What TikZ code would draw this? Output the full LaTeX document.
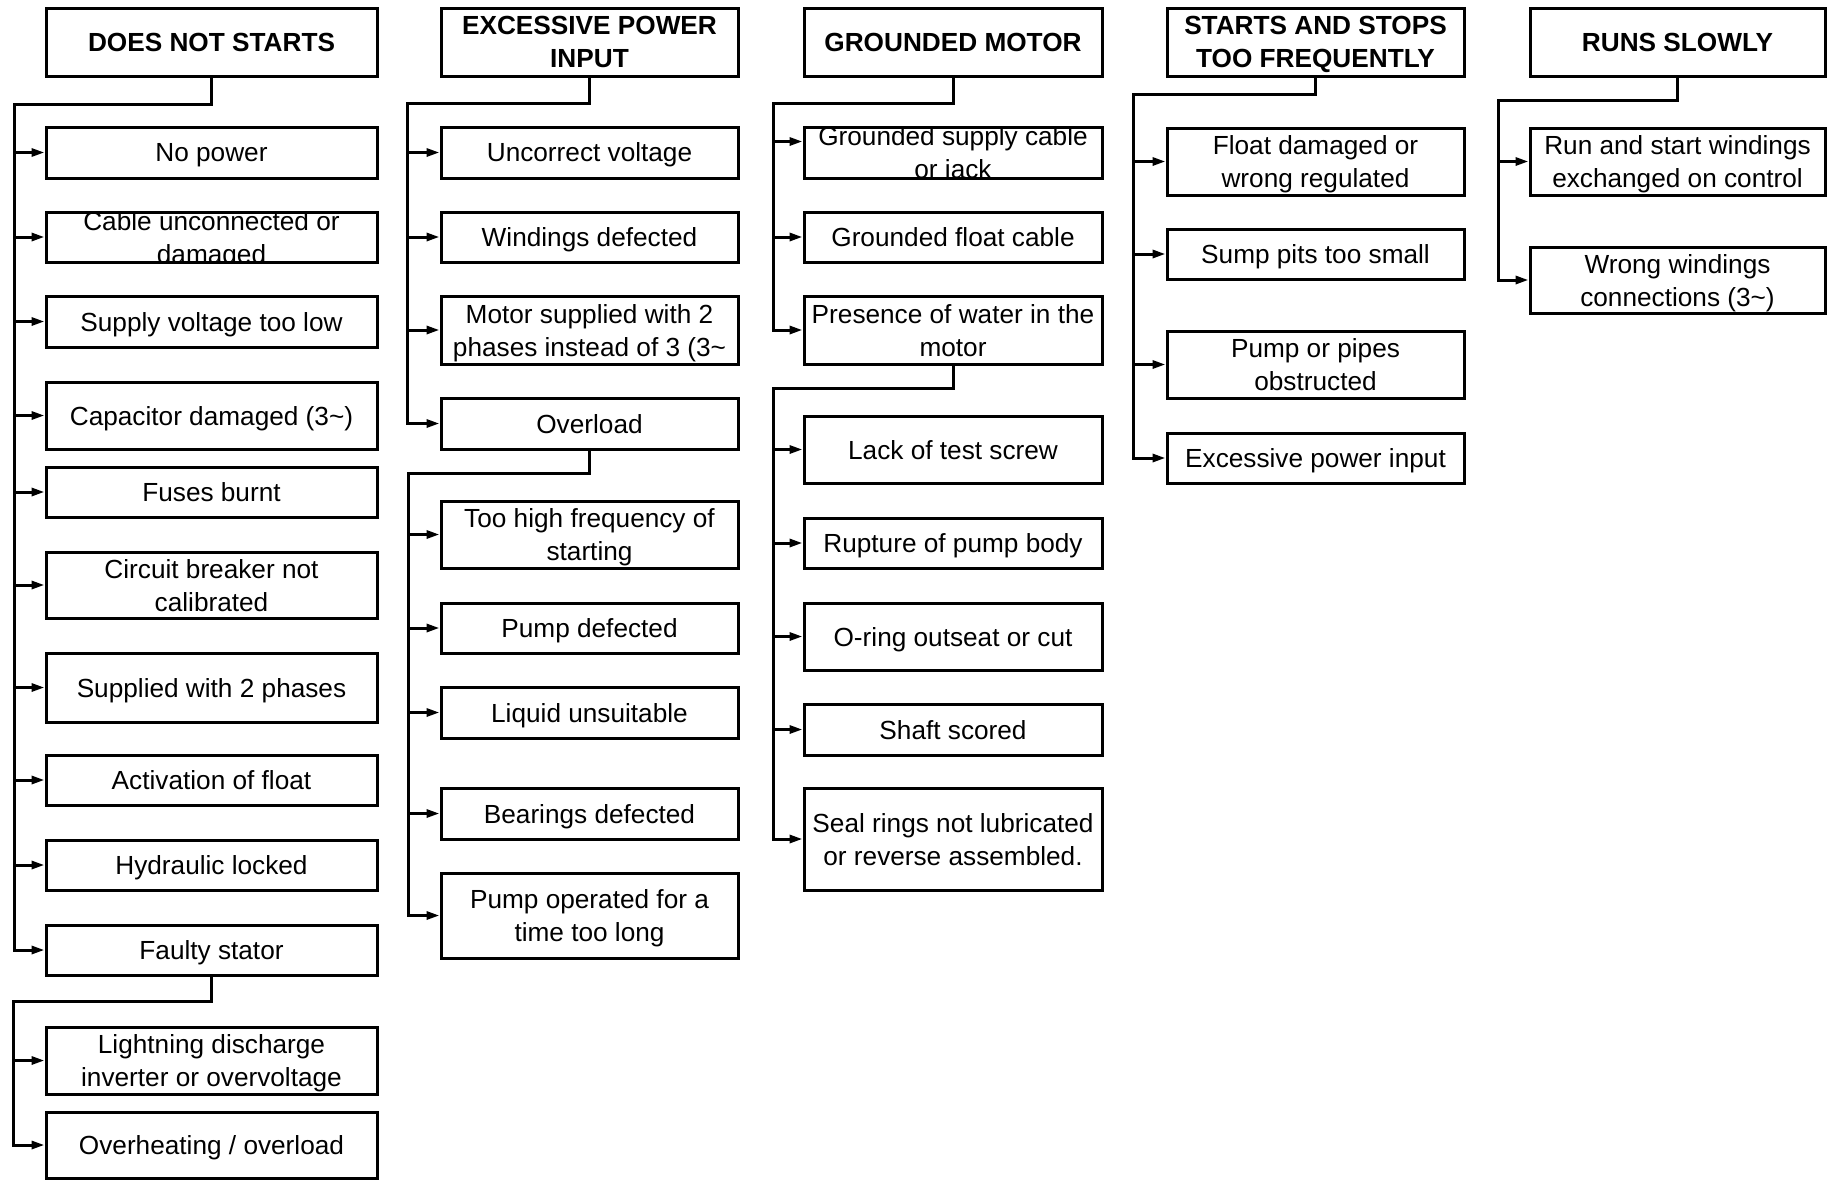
\documentclass[tikz,border=0pt]{standalone}
\usepackage{fontspec}
\setmainfont{Liberation Sans}
\usetikzlibrary{arrows.meta}
\begin{document}
\fontsize{13.1}{16.5}\selectfont
\begin{tikzpicture}[x=0.5pt, y=-0.5pt, line width=1.5pt,
  head/.style={draw=black, font=\bfseries, align=center, inner sep=0pt, text depth=0pt, minimum height=34pt},
  cause/.style={draw=black, align=center, inner sep=0pt, text depth=0pt},
  cut/.style={cause, path picture={\node[align=center] at (path picture bounding box.center) {#1};}},
  link/.style={-{Triangle[length=6.5pt,width=4pt]}}]
\useasboundingbox (0,0) rectangle (1829,1179);
% headers
\node[head, minimum width=165.5pt] (h1) at (211.5,42) {DOES NOT STARTS};
\node[head, minimum width=148.5pt] (h2) at (589.5,42) {EXCESSIVE POWER\\INPUT};
\node[head, minimum width=149pt] (h3) at (953,42) {GROUNDED MOTOR};
\node[head, minimum width=148.5pt] (h4) at (1315.5,42) {STARTS AND STOPS\\TOO FREQUENTLY};
\node[head, minimum width=147.5pt] (h5) at (1677.5,42) {RUNS SLOWLY};
% column 1
\node[cause, minimum width=165.5pt, minimum height=25.5pt] (c11) at (211.5,152.5) {No power};
\node[cut={Cable unconnected or\\damaged}, minimum width=165.5pt, minimum height=25pt] (c12) at (211.5,237) {};
\node[cause, minimum width=165.5pt, minimum height=25.5pt] (c13) at (211.5,321.5) {Supply voltage too low};
\node[cause, minimum width=165.5pt, minimum height=33.5pt] (c14) at (211.5,415.5) {Capacitor damaged (3\textasciitilde)};
\node[cause, minimum width=165.5pt, minimum height=25pt] (c15) at (211.5,492) {Fuses burnt};
\node[cause, minimum width=165.5pt, minimum height=33pt] (c16) at (211.5,585) {Circuit breaker not\\calibrated};
\node[cause, minimum width=165.5pt, minimum height=34.5pt] (c17) at (211.5,687.5) {Supplied with 2 phases};
\node[cause, minimum width=165.5pt, minimum height=25pt] (c18) at (211.5,780) {Activation of float};
\node[cause, minimum width=165.5pt, minimum height=25pt] (c19) at (211.5,865) {Hydraulic locked};
\node[cause, minimum width=165.5pt, minimum height=25pt] (c110) at (211.5,950) {Faulty stator};
\node[cause, minimum width=165.5pt, minimum height=33.5pt] (c111) at (211.5,1060.5) {Lightning discharge\\inverter or overvoltage};
\node[cause, minimum width=165.5pt, minimum height=33pt] (c112) at (211.5,1145) {Overheating / overload};
% column 2
\node[cause, minimum width=148.5pt, minimum height=25.5pt] (c21) at (589.5,152.5) {Uncorrect voltage};
\node[cause, minimum width=148.5pt, minimum height=25pt] (c22) at (589.5,237) {Windings defected};
\node[cause, minimum width=148.5pt, minimum height=34pt] (c23) at (589.5,330) {Motor supplied with 2\\phases instead of 3 (3\textasciitilde};
\node[cause, minimum width=148.5pt, minimum height=25.5pt] (c24) at (589.5,423.5) {Overload};
\node[cause, minimum width=148.5pt, minimum height=33.5pt] (c25) at (589.5,534.5) {Too high frequency of\\starting};
\node[cause, minimum width=148.5pt, minimum height=25pt] (c26) at (589.5,628) {Pump defected};
\node[cause, minimum width=148.5pt, minimum height=25.5pt] (c27) at (589.5,712.5) {Liquid unsuitable};
\node[cause, minimum width=148.5pt, minimum height=25.5pt] (c28) at (589.5,813.5) {Bearings defected};
\node[cause, minimum width=148.5pt, minimum height=42.5pt] (c29) at (589.5,915.5) {Pump operated for a\\time too long};
% column 3
\node[cut={Grounded supply cable\\or jack}, minimum width=149pt, minimum height=25.5pt] (c31) at (953,152.5) {};
\node[cause, minimum width=149pt, minimum height=25pt] (c32) at (953,237) {Grounded float cable};
\node[cause, minimum width=149pt, minimum height=34pt] (c33) at (953,330) {Presence of water in the\\motor};
\node[cause, minimum width=149pt, minimum height=33.5pt] (c34) at (953,449.5) {Lack of test screw};
\node[cause, minimum width=149pt, minimum height=25pt] (c35) at (953,543) {Rupture of pump body};
\node[cause, minimum width=149pt, minimum height=33.5pt] (c36) at (953,636.5) {O-ring outseat or cut};
\node[cause, minimum width=149pt, minimum height=25.5pt] (c37) at (953,729.5) {Shaft scored};
\node[cause, minimum width=149pt, minimum height=51pt] (c38) at (953,839) {Seal rings not lubricated\\or reverse assembled.};
% column 4
\node[cause, minimum width=148.5pt, minimum height=33.5pt] (c41) at (1315.5,161.5) {Float damaged or\\wrong regulated};
\node[cause, minimum width=148.5pt, minimum height=25pt] (c42) at (1315.5,254) {Sump pits too small};
\node[cause, minimum width=148.5pt, minimum height=33.5pt] (c43) at (1315.5,364.5) {Pump or pipes\\obstructed};
\node[cause, minimum width=148.5pt, minimum height=25pt] (c44) at (1315.5,458) {Excessive power input};
% column 5
\node[cause, minimum width=147.5pt, minimum height=33.5pt] (c51) at (1677.5,161.5) {Run and start windings\\exchanged on control};
\node[cause, minimum width=147.5pt, minimum height=33pt] (c52) at (1677.5,280) {Wrong windings\\connections (3\textasciitilde)};
% trunk corners
\coordinate (t1) at (14,104);
\coordinate (t1b) at (13,1001);
\coordinate (t2) at (407,103);
\coordinate (t2b) at (408,473);
\coordinate (t3) at (773,103);
\coordinate (t3b) at (773,388);
\coordinate (t4) at (1133,94);
\coordinate (t5) at (1498,100);
% column 1 links
\draw[link] (h1.south) |- (t1) |- (c110.west);
\draw[link] (t1 |- c11.west) -- (c11.west);
\draw[link] (t1 |- c12.west) -- (c12.west);
\draw[link] (t1 |- c13.west) -- (c13.west);
\draw[link] (t1 |- c14.west) -- (c14.west);
\draw[link] (t1 |- c15.west) -- (c15.west);
\draw[link] (t1 |- c16.west) -- (c16.west);
\draw[link] (t1 |- c17.west) -- (c17.west);
\draw[link] (t1 |- c18.west) -- (c18.west);
\draw[link] (t1 |- c19.west) -- (c19.west);
\draw[link] (c110.south) |- (t1b) |- (c112.west);
\draw[link] (t1b |- c111.west) -- (c111.west);
% column 2 links
\draw[link] (h2.south) |- (t2) |- (c24.west);
\draw[link] (t2 |- c21.west) -- (c21.west);
\draw[link] (t2 |- c22.west) -- (c22.west);
\draw[link] (t2 |- c23.west) -- (c23.west);
\draw[link] (c24.south) |- (t2b) |- (c29.west);
\draw[link] (t2b |- c25.west) -- (c25.west);
\draw[link] (t2b |- c26.west) -- (c26.west);
\draw[link] (t2b |- c27.west) -- (c27.west);
\draw[link] (t2b |- c28.west) -- (c28.west);
% column 3 links
\draw[link] (h3.south) |- (t3) |- (c33.west);
\draw[link] (t3 |- c31.north west) ++(0,16) -- ([yshift=-8pt]c31.north west);
\draw[link] (t3 |- c32.west) -- (c32.west);
\draw[link] (c33.south) |- (t3b) |- (c38.west);
\draw[link] (t3b |- c34.west) -- (c34.west);
\draw[link] (t3b |- c35.west) -- (c35.west);
\draw[link] (t3b |- c36.west) -- (c36.west);
\draw[link] (t3b |- c37.west) -- (c37.west);
% column 4 links
\draw[link] (h4.south) |- (t4) |- (c44.west);
\draw[link] (t4 |- c41.west) -- (c41.west);
\draw[link] (t4 |- c42.west) -- (c42.west);
\draw[link] (t4 |- c43.west) -- (c43.west);
% column 5 links
\draw[link] (h5.south) |- (t5) |- (c52.west);
\draw[link] (t5 |- c51.west) -- (c51.west);
\end{tikzpicture}
\end{document}
